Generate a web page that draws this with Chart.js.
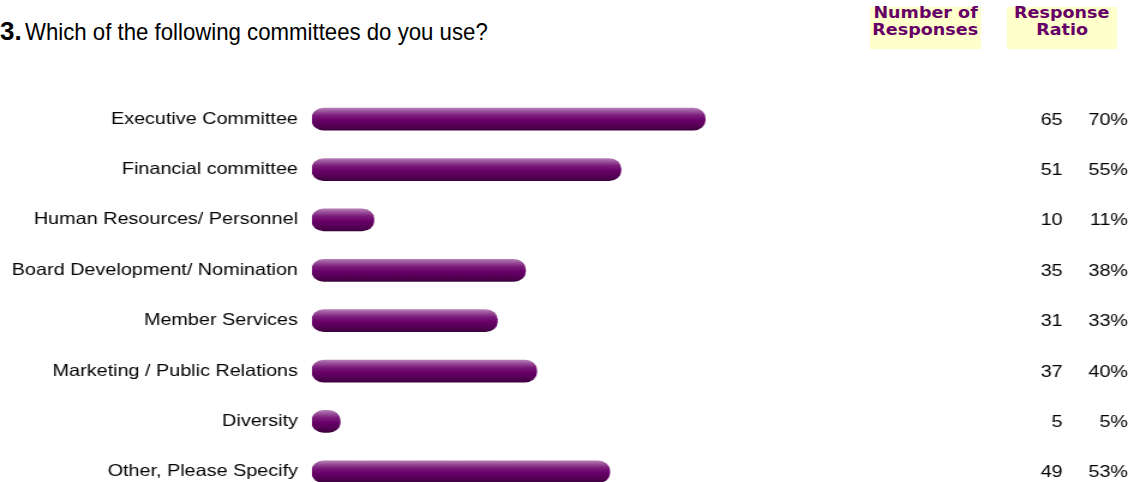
<!DOCTYPE html>
<html>
<head>
<meta charset="utf-8">
<script src="https://cdn.jsdelivr.net/npm/chart.js@4.4.0/dist/chart.umd.min.js"></script>
<style>
  html, body { margin: 0; padding: 0; width: 1140px; height: 482px; overflow: hidden; background: #fff; }
  #wrap { position: absolute; left: 0; top: 94px; width: 950px; height: 403px; transform: scaleX(1.2); transform-origin: 0 0; }
  canvas { display: block; }
  .t3 { position: absolute; left: 0; top: 18px; font: bold 26px "Liberation Sans", Arial, sans-serif; line-height: 26px; color: #000; white-space: nowrap; }
  .tq { position: absolute; left: 25px; top: 20px; font: 24px "Liberation Sans", Arial, sans-serif; line-height: 24px; color: #000; white-space: nowrap; transform: scaleX(0.925); transform-origin: 0 0; }
  .hbox { position: absolute; top: 7px; height: 42px; background: #ffffcc; }
  .htxt { position: absolute; top: 5px; height: 40px; font: bold 15px "DejaVu Sans", sans-serif; line-height: 17px; color: #660066; text-align: center; white-space: nowrap; }
  .htxt span { display: inline-block; transform: scale(1.17, 1); }
</style>
</head>
<body>
<div class="t3">3.</div>
<div class="tq">Which of the following committees do you use?</div>
<div class="hbox" style="left:870px;width:111px;"></div>
<div class="hbox" style="left:1007px;width:110px;"></div>
<div class="htxt" style="left:870px;width:111px;"><span>Number of</span><br><span>Responses</span></div>
<div class="htxt" style="left:1007px;width:110px;"><span>Response</span><br><span>Ratio</span></div>
<div id="wrap"><canvas id="c" width="950" height="403"></canvas></div>
<script>
const categories = [
  "Executive Committee",
  "Financial committee",
  "Human Resources/ Personnel",
  "Board Development/ Nomination",
  "Member Services",
  "Marketing / Public Relations",
  "Diversity",
  "Other, Please Specify"
];
const responseCounts = [65, 51, 10, 35, 31, 37, 5, 49];
const responseRatios = [70, 55, 11, 38, 33, 40, 5, 53];

const FONT = '"Liberation Sans", Arial, sans-serif';

function barGradient(ctx) {
  const chart = ctx.chart;
  const y = chart.scales && chart.scales.y;
  if (!y || ctx.dataIndex === undefined) return '#660066';
  const cy = y.getPixelForValue(ctx.dataIndex);
  if (!isFinite(cy)) return '#660066';
  const g = chart.ctx.createLinearGradient(0, cy - 11, 0, cy + 11);
  g.addColorStop(0, '#b67cb6');
  g.addColorStop(0.12, '#9d589d');
  g.addColorStop(0.32, '#7d1e7d');
  g.addColorStop(0.55, '#690069');
  g.addColorStop(0.8, '#560056');
  g.addColorStop(1, '#3c003c');
  return g;
}

const rightColumns = {
  id: 'rightColumns',
  afterDatasetsDraw(chart) {
    const c = chart.ctx;
    const y = chart.scales.y;
    c.save();
    c.font = '16.5px ' + FONT;
    c.fillStyle = '#000';
    c.textAlign = 'right';
    c.textBaseline = 'middle';
    categories.forEach((_, i) => {
      const py = y.getPixelForValue(i) + 1;
      c.fillText(String(responseCounts[i]), 885.5, py);
      c.fillText(responseRatios[i] + '%', 940, py);
    });
    c.restore();
  }
};

new Chart(document.getElementById('c'), {
  type: 'bar',
  data: {
    labels: categories,
    datasets: [{
      data: responseRatios,
      backgroundColor: barGradient,
      borderWidth: 0,
      borderRadius: 10,
      borderSkipped: false,
      barThickness: 22
    }]
  },
  options: {
    indexAxis: 'y',
    responsive: false,
    animation: false,
    devicePixelRatio: 1,
    layout: { padding: { left: 0, right: 222, top: 0, bottom: 0 } },
    plugins: { legend: { display: false }, tooltip: { enabled: false }, title: { display: false } },
    scales: {
      x: { display: false, min: 0, max: 100 },
      y: {
        grid: { display: false, drawTicks: false },
        border: { display: false },
        ticks: { color: '#000', font: { family: FONT, size: 16.5 }, padding: 11.7 },
        afterFit(scale) {
          scale.width = 260;
          scale.paddingTop = 0;
          scale.paddingBottom = 0;
        }
      }
    }
  },
  plugins: [rightColumns]
});
</script>
</body>
</html>
